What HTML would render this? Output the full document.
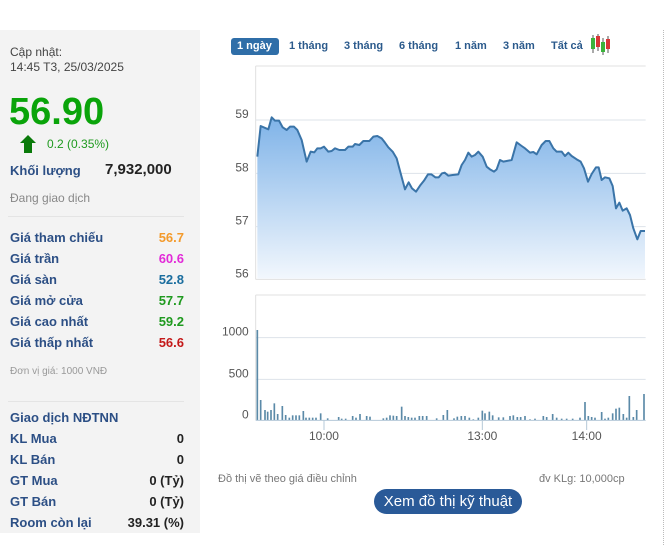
<!DOCTYPE html>
<html><head><meta charset="utf-8"><style>
body{margin:0;width:667px;height:545px;background:#fff;font-family:"Liberation Sans",Arial,sans-serif;position:relative;overflow:hidden}
.a{position:absolute;white-space:nowrap}
.lbl{left:10px;font-size:13px;font-weight:bold;color:#2c4f85}
.val{right:483px;font-size:13px;font-weight:bold;text-align:right}
.tab{position:absolute;top:40px;font-size:11px;font-weight:bold;color:#2b5a8c}
</style></head><body>
<div class="a" style="left:0;top:30px;width:200px;height:503px;background:#f3f3f3"></div>
<div class="a" style="left:10px;top:45px;font-size:12px;color:#444;line-height:15px">Cập nhật:<br>14:45 T3, 25/03/2025</div>
<div class="a" style="left:9px;top:91px;font-size:38px;font-weight:bold;color:#0aa40a;line-height:42px">56.90</div>
<svg class="a" style="left:19px;top:134px" width="18" height="20"><polygon points="9,1 17,9 13,9 13,19 5,19 5,9 1,9" fill="#0a7a0a"/></svg>
<div class="a" style="left:47px;top:137px;font-size:12px;color:#1f9a1f">0.2 (0.35%)</div>
<div class="a lbl" style="top:163px">Khối lượng</div>
<div class="a" style="left:105px;top:161px;font-size:15px;font-weight:bold;color:#222">7,932,000</div>
<div class="a" style="left:10px;top:191px;font-size:12px;color:#888">Đang giao dịch</div>
<div class="a" style="left:8px;top:216px;width:176px;height:1px;background:#e4e4e4"></div>
<div class="a lbl" style="top:230px">Giá tham chiếu</div><div class="a val" style="top:230px;color:#f39a2b">56.7</div>
<div class="a lbl" style="top:251px">Giá trần</div><div class="a val" style="top:251px;color:#e22bd8">60.6</div>
<div class="a lbl" style="top:272px">Giá sàn</div><div class="a val" style="top:272px;color:#1a6d9e">52.8</div>
<div class="a lbl" style="top:293px">Giá mở cửa</div><div class="a val" style="top:293px;color:#1f9a1f">57.7</div>
<div class="a lbl" style="top:314px">Giá cao nhất</div><div class="a val" style="top:314px;color:#1f9a1f">59.2</div>
<div class="a lbl" style="top:335px">Giá thấp nhất</div><div class="a val" style="top:335px;color:#c41a1a">56.6</div>
<div class="a" style="left:10px;top:366px;font-size:10px;color:#999">Đơn vị giá: 1000 VNĐ</div>
<div class="a" style="left:8px;top:401px;width:176px;height:1px;background:#e4e4e4"></div>
<div class="a lbl" style="top:410px">Giao dịch NĐTNN</div>
<div class="a lbl" style="top:431px">KL Mua</div><div class="a val" style="top:431px;color:#222">0</div>
<div class="a lbl" style="top:452px">KL Bán</div><div class="a val" style="top:452px;color:#222">0</div>
<div class="a lbl" style="top:473px">GT Mua</div><div class="a val" style="top:473px;color:#222">0 (Tỷ)</div>
<div class="a lbl" style="top:494px">GT Bán</div><div class="a val" style="top:494px;color:#222">0 (Tỷ)</div>
<div class="a lbl" style="top:515px">Room còn lại</div><div class="a val" style="top:515px;color:#222">39.31 (%)</div>

<div class="a" style="left:231px;top:38px;width:48px;height:17px;background:#2f6ea8;border-radius:3px"></div>
<div class="tab" style="left:237px;color:#fff">1 ngày</div>
<div class="tab" style="left:289px">1 tháng</div>
<div class="tab" style="left:344px">3 tháng</div>
<div class="tab" style="left:399px">6 tháng</div>
<div class="tab" style="left:455px">1 năm</div>
<div class="tab" style="left:503px">3 năm</div>
<div class="tab" style="left:551px">Tất cả</div>
<svg class="a" style="left:590px;top:34px" width="24" height="22">
<line x1="3" y1="1" x2="3" y2="19" stroke="#555"/><rect x="1" y="4" width="4" height="11" fill="#3bb33b"/>
<line x1="8" y1="0" x2="8" y2="17" stroke="#555"/><rect x="6" y="2" width="4" height="11" fill="#d93636"/>
<line x1="13" y1="4" x2="13" y2="21" stroke="#555"/><rect x="11" y="8" width="4" height="10" fill="#3bb33b"/>
<line x1="18" y1="2" x2="18" y2="19" stroke="#555"/><rect x="16" y="5" width="4" height="10" fill="#d93636"/>
</svg>
<div class="a" style="left:663px;top:30px;height:515px;border-left:1px dotted #bbb"></div>

<svg class="a" style="left:0;top:0" width="667" height="545">
<defs><linearGradient id="g" x1="0" y1="0" x2="0" y2="1"><stop offset="0" stop-color="#7fb3e8"/><stop offset="1" stop-color="#f2f7fd"/></linearGradient></defs>
<g transform="translate(200,30) scale(0.33333)">
<line x1="167" y1="108" x2="1337" y2="108" stroke="#e0e0e0" stroke-width="3"/>
<line x1="167" y1="108" x2="167" y2="748" stroke="#e0e0e0" stroke-width="3"/>
<line x1="167" y1="270" x2="1337" y2="270" stroke="#dde3ea" stroke-width="3"/>
<line x1="167" y1="430" x2="1337" y2="430" stroke="#dde3ea" stroke-width="3"/>
<line x1="167" y1="590" x2="1337" y2="590" stroke="#dde3ea" stroke-width="3"/>
<line x1="167" y1="748" x2="1337" y2="748" stroke="#e0e0e0" stroke-width="3"/>
<g font-size="36" fill="#555" text-anchor="end"><text x="146" y="264">59</text><text x="146" y="424">58</text><text x="146" y="584">57</text><text x="146" y="742">56</text></g>
<path id="p" d="M172,380 L182,288 205,298 215,262 225,272 237,272 248,292 260,300 270,290 282,290 292,300 305,330 320,395 332,365 343,367 352,355 362,355 372,350 385,365 395,363 405,355 418,360 435,360 445,350 458,350 465,342 478,345 490,333 508,333 520,320 532,318 545,325 555,338 565,352 578,365 590,385 602,430 615,478 626,457 636,475 648,485 660,467 672,452 684,433 694,433 706,442 716,442 726,430 734,428 745,437 758,435 775,433 785,405 795,390 805,368 815,380 825,375 835,365 848,380 860,410 870,418 882,425 890,418 900,390 910,395 920,393 935,390 950,337 965,348 975,355 990,368 1000,366 1010,373 1025,345 1037,333 1048,333 1060,355 1070,365 1085,365 1095,378 1105,368 1115,378 1130,388 1142,395 1152,415 1164,455 1175,432 1188,412 1196,412 1205,450 1215,442 1228,445 1238,468 1248,535 1258,518 1268,542 1280,535 1290,555 1300,595 1312,628 1322,603 1335,603" fill="none"/>
<path d="M172,380 L182,288 205,298 215,262 225,272 237,272 248,292 260,300 270,290 282,290 292,300 305,330 320,395 332,365 343,367 352,355 362,355 372,350 385,365 395,363 405,355 418,360 435,360 445,350 458,350 465,342 478,345 490,333 508,333 520,320 532,318 545,325 555,338 565,352 578,365 590,385 602,430 615,478 626,457 636,475 648,485 660,467 672,452 684,433 694,433 706,442 716,442 726,430 734,428 745,437 758,435 775,433 785,405 795,390 805,368 815,380 825,375 835,365 848,380 860,410 870,418 882,425 890,418 900,390 910,395 920,393 935,390 950,337 965,348 975,355 990,368 1000,366 1010,373 1025,345 1037,333 1048,333 1060,355 1070,365 1085,365 1095,378 1105,368 1115,378 1130,388 1142,395 1152,415 1164,455 1175,432 1188,412 1196,412 1205,450 1215,442 1228,445 1238,468 1248,535 1258,518 1268,542 1280,535 1290,555 1300,595 1312,628 1322,603 1335,603 L1335,746 L172,746 Z" fill="url(#g)"/>
<use href="#p" stroke="#3a74a8" stroke-width="6" stroke-linejoin="round"/>
</g>
<g transform="translate(200,290) scale(0.33333)">
<line x1="167" y1="15" x2="1337" y2="15" stroke="#e0e0e0" stroke-width="3"/>
<line x1="167" y1="15" x2="167" y2="390" stroke="#e0e0e0" stroke-width="3"/>
<line x1="167" y1="143" x2="1337" y2="143" stroke="#dde3ea" stroke-width="3"/>
<line x1="167" y1="268" x2="1337" y2="268" stroke="#dde3ea" stroke-width="3"/>
<g font-size="36" fill="#555" text-anchor="end"><text x="146" y="137">1000</text><text x="146" y="262">500</text><text x="146" y="386">0</text></g>
<g stroke="#5b8aa8" stroke-width="5" id="bars"></g>
<line x1="167" y1="391" x2="1337" y2="391" stroke="#b5c8d8" stroke-width="3"/>
<g stroke="#b5c8d8" stroke-width="3"><line x1="372" y1="391" x2="372" y2="420"/><line x1="847" y1="391" x2="847" y2="420"/><line x1="1160" y1="391" x2="1160" y2="420"/></g>
<g font-size="36" fill="#555" text-anchor="middle"><text x="372" y="450">10:00</text><text x="847" y="450">13:00</text><text x="1160" y="450">14:00</text></g>
</g>
</svg>
<div class="a" style="left:218px;top:473px;font-size:11px;color:#777">Đồ thị vẽ theo giá điều chỉnh</div>
<div class="a" style="left:539px;top:473px;font-size:11px;color:#777">đv KLg: 10,000cp</div>
<div class="a" style="left:374px;top:489px;width:148px;height:25px;background:#2a5a98;border-radius:13px;color:#fff;font-size:15px;text-align:center;line-height:25px">Xem đồ thị kỹ thuật</div>
<script>
var b=[[172,120],[182,330],[195,360],[203,365],[213,360],[223,340],[233,372],[247,348],[257,375],[268,383],[278,376],[288,376],[298,376],[310,363],[318,383],[328,383],[338,383],[348,383],[362,370],[383,385],[416,381],[425,386],[437,386],[458,378],[468,383],[480,372],[500,378],[510,380],[550,385],[560,383],[570,376],[580,377],[590,378],[605,350],[615,378],[625,381],[635,383],[645,383],[658,378],[668,378],[680,378],[710,385],[730,375],[742,360],[762,385],[772,380],[784,378],[795,378],[808,383],[820,388],[835,383],[847,362],[855,370],[868,365],[878,376],[896,382],[910,382],[930,378],[940,376],[952,381],[962,381],[975,378],[990,388],[1005,386],[1030,378],[1040,381],[1058,372],[1070,383],[1085,386],[1100,386],[1118,386],[1140,383],[1155,336],[1165,378],[1175,381],[1185,383],[1205,366],[1215,386],[1225,383],[1238,370],[1248,356],[1258,353],[1270,372],[1280,383],[1288,318],[1300,381],[1310,360],[1332,312]];
var g=document.getElementById('bars'),s='';
b.forEach(function(p){s+='<line x1="'+p[0]+'" y1="'+p[1]+'" x2="'+p[0]+'" y2="391"/>';});
g.innerHTML=s;
</script>
</body></html>
